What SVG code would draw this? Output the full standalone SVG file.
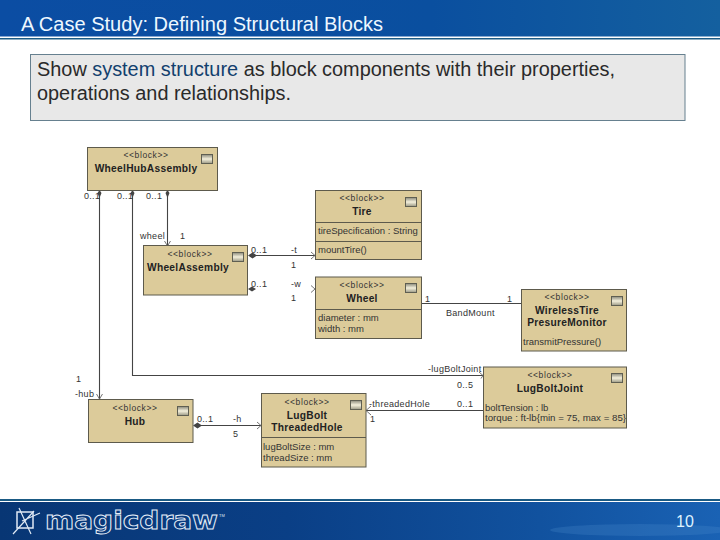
<svg xmlns="http://www.w3.org/2000/svg" width="720" height="540" viewBox="0 0 720 540">
<style>
text{font-family:"Liberation Sans",Arial,sans-serif}
.b{fill:#dccb9a;stroke:#5d5a4c;stroke-width:1}
.d{stroke:#5d5a4c;stroke-width:1;fill:none}
.ic{fill:url(#ig);stroke:#5f5f52;stroke-width:1}
.s{font-size:8.5px;fill:#333;text-anchor:middle;letter-spacing:.6px}
.n{font-size:10.200px;font-weight:bold;fill:#222;text-anchor:middle;letter-spacing:.3px}
.p{font-size:9.500px;fill:#333}
.l{font-size:9px;fill:#333;letter-spacing:.3px}
.c{stroke:#444;stroke-width:1.100;fill:none}
.q{fill:#444}
.a{stroke:#666;stroke-width:.9;fill:none}
</style>
<defs>
<linearGradient id="ig" x1="0" y1="0" x2="0" y2="1"><stop offset="0" stop-color="#8a897a"/><stop offset=".5" stop-color="#f4f0dc"/><stop offset="1" stop-color="#9a9884"/></linearGradient>
<linearGradient id="hg" x1="0" y1="0" x2="1" y2="0"><stop offset="0" stop-color="#0b4da3"/><stop offset=".6" stop-color="#0a4f9f"/><stop offset="1" stop-color="#14609f"/></linearGradient>
<linearGradient id="fg" x1="0" y1="0" x2="1" y2="0"><stop offset="0" stop-color="#083674"/><stop offset=".4" stop-color="#0a3f86"/><stop offset=".75" stop-color="#11529f"/><stop offset="1" stop-color="#1a62b4"/></linearGradient>
</defs>
<rect width="720" height="540" fill="#fff"/>
<g id="header">
<rect width="720" height="36.500" fill="url(#hg)"/>
<rect y="38" width="720" height="1.500" fill="#1a5a84"/>
<text x="21" y="31" font-size="20" fill="#eef8ff" textLength="362" lengthAdjust="spacingAndGlyphs">A Case Study: Defining Structural Blocks</text>
</g>
<g id="callout">
<rect x="30.500" y="54.500" width="654.500" height="66" fill="#e8e8e8" stroke="#66808f"/>
<text x="37" y="76" font-size="20" fill="#2a2a2a" textLength="578" lengthAdjust="spacingAndGlyphs">Show <tspan fill="#123f6e">system structure</tspan> as block components with their properties,</text>
<text x="37" y="100" font-size="20" fill="#2a2a2a" textLength="254" lengthAdjust="spacingAndGlyphs">operations and relationships.</text>
</g>
<g id="connectors">
<path class="c" d="M99.500 196V399"/>
<path class="c" d="M132.500 196V375.500H483"/>
<path class="c" d="M167.500 196V246"/>
<path class="c" d="M255 255.500H315"/>
<path class="c" d="M422 303.500H521"/>
<path class="c" d="M201 425.500H261"/>
<path class="c" d="M483 410.500H366"/>
<path class="q" d="M99.500 190l2 3-2 5-2-5zM132.500 190l2 3-2 5-2-5zM167.500 190l2 3-2 5-2-5zM248 255.500l4.500-3 4.500 3-4.500 3zM248 289l4-2.500 4 2.500-4 2.500zM193 425.500l4.500-3 4.500 3-4.500 3z"/>
<path class="a" d="M96.500 394l3 5 3-5M164.500 241l3 5 3-5M311 252l4 3.500-4 3.500M311 285.500l4 3.500-4 3.500M257 422l4 3.500-4 3.500M371 406l-5 4.500 5 4.500M479 372l4 3.500-2 3"/>
</g>
<g id="connector-labels">
<text class="l" x="84" y="199">0..1</text>
<text class="l" x="117" y="199">0..1</text>
<text class="l" x="146" y="199">0..1</text>
<text class="l" x="140" y="239">wheel</text>
<text class="l" x="180" y="239">1</text>
<text class="l" x="251" y="253">0..1</text>
<text class="l" x="251" y="287">0..1</text>
<text class="l" x="291" y="253">-t</text>
<text class="l" x="291" y="268">1</text>
<text class="l" x="291" y="287">-w</text>
<text class="l" x="291" y="301">1</text>
<text class="l" x="425" y="302">1</text>
<text class="l" x="507" y="302">1</text>
<text class="l" x="446" y="316">BandMount</text>
<text class="l" x="428" y="372">-lugBoltJoint</text>
<text class="l" x="457" y="388">0..5</text>
<text class="l" x="369" y="407">-threadedHole</text>
<text class="l" x="457" y="407">0..1</text>
<text class="l" x="370" y="422">1</text>
<text class="l" x="76" y="382">1</text>
<text class="l" x="75" y="397">-hub</text>
<text class="l" x="197" y="422">0..1</text>
<text class="l" x="233" y="422">-h</text>
<text class="l" x="233" y="437">5</text>
</g>
<g id="WheelHubAssembly">
<rect class="b" x="87.500" y="147.500" width="130" height="43"/>
<rect class="ic" x="201.500" y="154.500" width="11" height="9"/>
<text class="s" x="146" y="158">&lt;&lt;block&gt;&gt;</text>
<text class="n" x="146" y="172">WheelHubAssembly</text>
</g>
<g id="WheelAssembly">
<rect class="b" x="143.500" y="245.500" width="104" height="49.500"/>
<rect class="ic" x="232.500" y="252.500" width="11" height="9"/>
<text class="s" x="190" y="257">&lt;&lt;block&gt;&gt;</text>
<text class="n" x="188" y="271">WheelAssembly</text>
</g>
<g id="Tire">
<rect class="b" x="315.500" y="190.500" width="106" height="69"/>
<path class="d" d="M315.500 222.500H421.500M315.500 241.500H421.500"/>
<rect class="ic" x="405.500" y="197.500" width="11" height="9"/>
<text class="s" x="362" y="201">&lt;&lt;block&gt;&gt;</text>
<text class="n" x="362" y="215">Tire</text>
<text class="p" x="318" y="234">tireSpecification : String</text>
<text class="p" x="318" y="253">mountTire()</text>
</g>
<g id="Wheel">
<rect class="b" x="315.500" y="277" width="106" height="61.500"/>
<path class="d" d="M315.500 309.500H421.500"/>
<rect class="ic" x="405.500" y="283.500" width="11" height="9"/>
<text class="s" x="362" y="288">&lt;&lt;block&gt;&gt;</text>
<text class="n" x="362" y="302">Wheel</text>
<text class="p" x="318" y="321">diameter : mm</text>
<text class="p" x="318" y="332">width : mm</text>
</g>
<g id="WirelessTirePresureMonitor">
<rect class="b" x="521.500" y="289.500" width="105" height="61.500"/>
<rect class="ic" x="611.500" y="296.500" width="11" height="9"/>
<text class="s" x="567" y="300">&lt;&lt;block&gt;&gt;</text>
<text class="n" x="567" y="314">WirelessTire</text>
<text class="n" x="567" y="326">PresureMonitor</text>
<text class="p" x="523" y="345">transmitPressure()</text>
</g>
<g id="LugBoltJoint">
<rect class="b" x="483.500" y="367" width="143" height="61"/>
<rect class="ic" x="611.500" y="373.500" width="11" height="9"/>
<text class="s" x="550" y="378">&lt;&lt;block&gt;&gt;</text>
<text class="n" x="550" y="392">LugBoltJoint</text>
<text class="p" x="485" y="411">boltTension : lb</text>
<text class="p" x="485" y="421" textLength="141" lengthAdjust="spacingAndGlyphs">torque : ft-lb{min = 75, max = 85}</text>
</g>
<g id="Hub">
<rect class="b" x="88.500" y="399.500" width="104.500" height="43"/>
<rect class="ic" x="177.500" y="406.500" width="11" height="9"/>
<text class="s" x="135" y="411">&lt;&lt;block&gt;&gt;</text>
<text class="n" x="135" y="425">Hub</text>
</g>
<g id="LugBoltThreadedHole">
<rect class="b" x="261.500" y="393.500" width="104.500" height="73.500"/>
<path class="d" d="M261.500 437.500H366"/>
<rect class="ic" x="350.500" y="400.500" width="11" height="9"/>
<text class="s" x="307" y="405">&lt;&lt;block&gt;&gt;</text>
<text class="n" x="307" y="419">LugBolt</text>
<text class="n" x="307" y="431">ThreadedHole</text>
<text class="p" x="263" y="450">lugBoltSize : mm</text>
<text class="p" x="263" y="461">threadSize : mm</text>
</g>
<g id="footer">
<rect y="499" width="720" height="2" fill="#1a5a84"/>
<rect y="502" width="720" height="38" fill="url(#fg)"/>
<ellipse cx="640" cy="530" rx="90" ry="6" fill="#4f8fd0" opacity=".25"/>
<g fill="none" stroke="#dfe9f5">
<rect x="17" y="512" width="16" height="16" stroke-width="1.500"/>
<path d="M13 534L34 511M19 508L31 534M22 521L40 513" stroke-width="1.200"/>
</g>
<text x="45" y="529" font-size="24" font-weight="bold" fill="none" stroke="#e6eef8" stroke-width=".9" style="font-family:'DejaVu Sans',sans-serif" textLength="173" lengthAdjust="spacingAndGlyphs">magicdraw</text>
<text x="219" y="517" font-size="4" fill="#dfe9f5">TM</text>
<text x="676" y="527" font-size="16" fill="#dff3ff">10</text>
</g>
</svg>
